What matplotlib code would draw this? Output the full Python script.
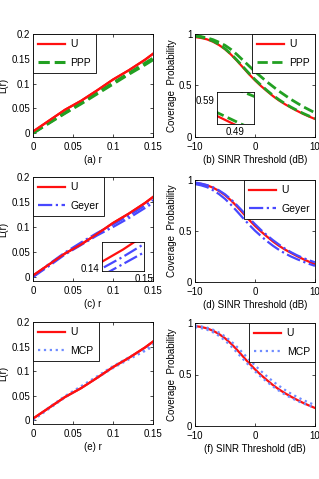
import matplotlib
matplotlib.use("Agg")
import matplotlib.pyplot as plt

plt.rcParams['font.family'] = ['Liberation Sans', 'DejaVu Sans']
plt.rcParams['font.size'] = 7

# ---- data ----
r = [0, 0.02, 0.04, 0.06, 0.08, 0.10, 0.12, 0.14, 0.15]
L_U = [0.003, 0.025, 0.047, 0.065, 0.086, 0.108, 0.127, 0.148, 0.160]
L_PPP_1 = [0.0, 0.020, 0.040, 0.059, 0.079, 0.099, 0.119, 0.138, 0.148]
L_PPP_2 = [0.0, 0.021, 0.041, 0.061, 0.081, 0.101, 0.121, 0.141, 0.151]
L_Geyer_1 = [0.0, 0.026, 0.049, 0.069, 0.088, 0.105, 0.123, 0.143, 0.154]
L_Geyer_2 = [0.0, 0.022, 0.045, 0.064, 0.083, 0.100, 0.118, 0.138, 0.148]
L_MCP_1 = [0.0, 0.026, 0.049, 0.069, 0.089, 0.110, 0.128, 0.145, 0.155]
L_MCP_2 = [0.0, 0.023, 0.046, 0.066, 0.086, 0.106, 0.124, 0.141, 0.150]

sinr = list(range(-10, 11))
P_U = [0.97, 0.962, 0.948, 0.925, 0.893, 0.852, 0.80, 0.74, 0.675, 0.61, 0.55,
       0.495, 0.445, 0.397, 0.355, 0.318, 0.285, 0.254, 0.225, 0.199, 0.175]
P_PPP_1 = [0.985, 0.975, 0.962, 0.945, 0.92, 0.89, 0.85, 0.80, 0.745, 0.69, 0.635,
           0.585, 0.535, 0.49, 0.445, 0.405, 0.365, 0.33, 0.295, 0.265, 0.235]
P_PPP_2 = [0.98, 0.97, 0.955, 0.932, 0.90, 0.858, 0.806, 0.746, 0.682, 0.618, 0.558,
           0.503, 0.452, 0.404, 0.362, 0.324, 0.29, 0.259, 0.23, 0.204, 0.18]
P_Geyer_1 = [0.975, 0.965, 0.95, 0.928, 0.898, 0.86, 0.81, 0.752, 0.69, 0.627, 0.567,
             0.51, 0.458, 0.41, 0.367, 0.327, 0.292, 0.262, 0.236, 0.213, 0.193]
P_Geyer_2 = [0.96, 0.948, 0.93, 0.90, 0.862, 0.815, 0.757, 0.693, 0.627, 0.563, 0.503,
             0.45, 0.40, 0.355, 0.315, 0.28, 0.25, 0.224, 0.20, 0.178, 0.158]
P_MCP_1 = [0.975, 0.967, 0.955, 0.935, 0.907, 0.87, 0.823, 0.768, 0.708, 0.647, 0.588,
           0.533, 0.482, 0.433, 0.39, 0.35, 0.314, 0.282, 0.253, 0.227, 0.203]
P_MCP_2 = [0.96, 0.95, 0.935, 0.91, 0.875, 0.83, 0.775, 0.713, 0.65, 0.588, 0.53,
           0.477, 0.428, 0.383, 0.342, 0.305, 0.273, 0.245, 0.22, 0.198, 0.178]

red = '#ff1010'
green = '#22a022'
blue = '#4848ff'
lblue = '#6f8cff'

W, H = 319, 479
fig = plt.figure(figsize=(W / 100, H / 100), dpi=100)


def box(x0, y0, x1, y1):
    # pixel box -> figure fraction
    return [x0 / W, 1 - y1 / H, (x1 - x0) / W, (y1 - y0) / H]


def style(ax):
    ax.tick_params(direction='in', top=True, right=True, length=2.5, width=0.5)
    ax.tick_params(axis='x', pad=3.5)
    ax.tick_params(axis='y', pad=2)
    for s in ax.spines.values():
        s.set_linewidth(0.6)


def add_legend(ax, loc):
    leg = ax.legend(loc=loc, fancybox=False, edgecolor='black', framealpha=1,
                    borderaxespad=0, handlelength=2.6, handletextpad=0.5,
                    fontsize=7.5, labelspacing=0.8, borderpad=0.5)
    leg.get_frame().set_linewidth(0.6)


def lr_axes(ax, label, c2, ls2, lw2, name, d1, d2):
    ax.plot(r, L_U, color=red, lw=1.6, label='U')
    ax.plot(r, d1, color=c2, ls=ls2, lw=lw2, label=name)
    ax.plot(r, d2, color=c2, ls=ls2, lw=lw2)
    ax.plot(r, L_U, color=red, lw=1.6)
    ax.set_xlim(0, 0.15)
    ax.set_ylim(-0.008, 0.2)
    ax.set_xticks([0, 0.05, 0.1, 0.15])
    ax.set_xticklabels(['0', '0.05', '0.1', '0.15'])
    ax.set_yticks([0, 0.05, 0.1, 0.15, 0.2])
    ax.set_yticklabels(['0', '0.05', '0.1', '0.15', '0.2'])
    ax.set_xlabel(label, labelpad=2)
    ax.set_ylabel('L(r)', labelpad=2)
    style(ax)
    add_legend(ax, 'upper left')


def cov_axes(ax, label, c2, ls2, lw2, name, d1, d2):
    ax.plot(sinr, P_U, color=red, lw=1.6, label='U')
    ax.plot(sinr, d1, color=c2, ls=ls2, lw=lw2, label=name)
    ax.plot(sinr, d2, color=c2, ls=ls2, lw=lw2)
    ax.set_xlim(-10, 10)
    ax.set_ylim(0, 1)
    ax.set_xticks([-10, 0, 10])
    ax.set_yticks([0, 0.5, 1])
    ax.set_yticklabels(['0', '0.5', '1'])
    ax.set_xlabel(label, labelpad=2)
    ax.set_ylabel('Coverage  Probability', labelpad=1)
    style(ax)
    add_legend(ax, 'upper right')


ax_a = fig.add_axes(box(33, 34, 153, 137))
lr_axes(ax_a, '(a) r', green, '--', 2.2, 'PPP', L_PPP_1, L_PPP_2)
ax_b = fig.add_axes(box(195, 34, 315, 137))
cov_axes(ax_b, '(b) SINR Threshold (dB)', green, '--', 2.0, 'PPP', P_PPP_1, P_PPP_2)

ax_c = fig.add_axes(box(33, 177, 153, 281))
lr_axes(ax_c, '(c) r', blue, '-.', 1.6, 'Geyer', L_Geyer_1, L_Geyer_2)
ax_d = fig.add_axes(box(195, 180, 315, 282))
cov_axes(ax_d, '(d) SINR Threshold (dB)', blue, '-.', 1.6, 'Geyer', P_Geyer_1, P_Geyer_2)

ax_e = fig.add_axes(box(33, 322, 153, 424))
lr_axes(ax_e, '(e) r', lblue, ':', 1.6, 'MCP', L_MCP_1, L_MCP_2)
ax_f = fig.add_axes(box(195, 323, 315, 426))
cov_axes(ax_f, '(f) SINR Threshold (dB)', lblue, ':', 1.6, 'MCP', P_MCP_1, P_MCP_2)

# inset in (b)
ins_b = fig.add_axes(box(217, 92, 254, 124))
ins_b.plot(sinr, P_U, color=red, lw=1.6)
ins_b.plot(sinr, P_PPP_1, color=green, ls='--', lw=2.0)
ins_b.plot(sinr, P_PPP_2, color=green, ls='--', lw=2.0)
ins_b.set_xlim(-1.4, -0.8)
ins_b.set_ylim(0.6185, 0.6885)
ins_b.set_xticks([-1.1])
ins_b.set_xticklabels(['0.49'])
ins_b.set_yticks([0.672])
ins_b.set_yticklabels(['0.59'])
ins_b.tick_params(length=0, pad=2)
for s in ins_b.spines.values():
    s.set_linewidth(0.6)

# inset in (c)
ins_c = fig.add_axes(box(102, 242, 144, 271))
ins_c.plot(r, L_U, color=red, lw=1.6)
ins_c.plot(r, L_Geyer_1, color=blue, ls='-.', lw=1.6)
ins_c.plot(r, L_Geyer_2, color=blue, ls='-.', lw=1.6)
ins_c.set_xlim(0.132, 0.148)
ins_c.set_ylim(0.1332, 0.1532)
ins_c.set_xticks([0.148])
ins_c.set_xticklabels(['0.15'])
ins_c.set_yticks([0.1355])
ins_c.set_yticklabels(['0.14'])
ins_c.tick_params(length=0, pad=2)
for s in ins_c.spines.values():
    s.set_linewidth(0.6)

fig.savefig('out.png', dpi=100)
